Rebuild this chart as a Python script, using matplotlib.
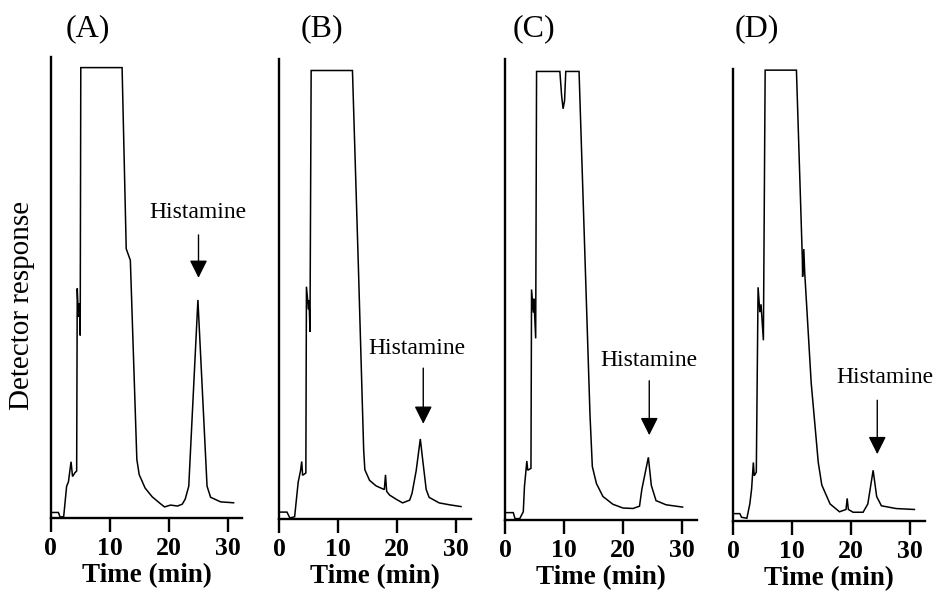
import matplotlib
matplotlib.use("Agg")
import matplotlib.pyplot as plt

plt.rcParams['font.family'] = ['Liberation Serif', 'DejaVu Serif']

# ---------------- data ----------------
panel_labels = ["(A)", "(B)", "(C)", "(D)"]
x_ticks = [0, 10, 20, 30]
x_tick_labels = ["0", "10", "20", "30"]

times_A = [0, 1.3, 1.6, 2.2, 2.7, 3.0, 3.45, 3.7, 4.1, 4.4, 4.5, 4.7, 4.85, 5.0, 5.1,
           12.1, 12.8, 13.5, 14.6, 15.0, 16.0, 17.2, 18.6, 19.3, 20.3, 21.5, 22.3,
           22.8, 23.4, 24.95, 26.5, 27.1, 28.8, 31.0]
resp_A = [1.2, 1.2, 0.2, 0.3, 6.9, 7.8, 12.2, 9.0, 9.8, 10.2, 49.8, 43.7, 46.5, 39.6, 97.7,
          97.7, 58.4, 55.9, 12.7, 9.4, 6.5, 4.6, 3.1, 2.4, 2.8, 2.6, 3.0,
          4.1, 6.9, 47.3, 6.9, 4.5, 3.5, 3.3]

times_B = [0, 1.3, 1.8, 2.6, 3.2, 3.6, 3.8, 3.95, 4.5, 4.6, 4.95, 5.05, 5.2, 5.4,
           12.4, 13.4, 14.3, 14.5, 15.3, 16.4, 17.8, 18.0, 18.2, 18.7, 19.8, 20.9,
           22.1, 22.5, 23.2, 23.9, 24.3, 24.9, 25.4, 27.1, 28.8, 30.8]
resp_B = [1.5, 1.5, 0.2, 0.5, 8.0, 10.5, 12.5, 9.5, 10.0, 50.5, 45.6, 47.5, 40.7, 97.5,
          97.5, 55.0, 15.0, 10.7, 8.4, 7.2, 6.4, 9.6, 6.0, 5.2, 4.3, 3.5,
          4.1, 5.6, 10.5, 17.4, 12.9, 6.4, 4.7, 3.5, 3.1, 2.7]

times_C = [0, 1.4, 1.7, 2.5, 3.1, 3.3, 3.5, 3.7, 3.85, 4.4, 4.5, 4.8, 4.9, 5.2, 5.35,
           9.3, 9.6, 9.85, 10.1, 10.3, 12.55, 14.4, 14.8, 15.5, 16.6, 18.3, 20.0,
           21.7, 22.8, 23.2, 24.3, 24.8, 25.6, 27.3, 30.1]
resp_C = [1.6, 1.6, 0.3, 0.3, 1.8, 7.3, 10.0, 12.8, 10.8, 11.2, 50.0, 45.0, 48.0, 39.4, 97.3,
          97.3, 92.0, 89.2, 91.0, 97.3, 97.3, 23.0, 11.6, 7.9, 5.1, 3.4, 2.6,
          2.5, 3.0, 6.7, 13.6, 7.5, 4.2, 3.3, 2.8]

times_D = [0, 1.1, 1.4, 2.3, 2.8, 3.1, 3.4, 3.55, 3.9, 4.2, 4.5, 4.7, 5.1, 5.4,
           10.7, 11.7, 11.75, 11.95, 12.1, 13.2, 14.4, 15.0, 16.4, 18.0, 19.1, 19.3,
           19.5, 20.3, 22.0, 22.8, 23.7, 24.3, 25.1, 27.6, 30.7]
resp_D = [1.6, 1.6, 0.8, 0.6, 3.7, 6.9, 12.7, 9.8, 10.6, 50.7, 45.3, 47.0, 39.2, 97.8,
          97.8, 57.0, 53.0, 59.0, 54.0, 30.0, 12.7, 7.8, 3.7, 2.0, 2.5, 4.9,
          2.5, 1.9, 1.9, 3.7, 11.0, 5.3, 3.3, 2.7, 2.5]

# top of the drawn y axis line for each panel (response units)
axis_top = [100, 100, 100, 98]

# histamine annotation: (text x, text y, arrow x, arrow start y, arrow tip y)
hist_text_x = [24.9, 23.4, 24.45, 25.7]
hist_text_y = [66.2, 37.0, 34.7, 31.2]
hist_arrow_x = [25.05, 24.4, 24.45, 24.4]
hist_arrow_y0 = [61.4, 32.8, 30.2, 26.2]
hist_arrow_y1 = [52.1, 20.7, 18.4, 14.5]

series_t = [times_A, times_B, times_C, times_D]
series_r = [resp_A, resp_B, resp_C, resp_D]

# ---------------- layout ----------------
W, H = 935, 591
fig = plt.figure(figsize=(W / 100, H / 100), dpi=100)

# axes rectangles in pixels: (x of t=0, y of baseline, y of top)
ax_px = [(50.7, 518, 57), (279.3, 519, 59), (505, 520, 59), (733.3, 521, 60)]
title_px = [(88, 29), (322, 29), (534, 29), (757, 29)]
xmax = 32.5
px_per_min = 5.9

for i in range(4):
    x0, yb, yt = ax_px[i]
    wpx = xmax * px_per_min
    ax = fig.add_axes([x0 / W, (H - yb) / H, wpx / W, (yb - yt) / H])
    ax.plot(series_t[i], series_r[i], color='black', lw=1.1, solid_joinstyle='miter')
    ax.set_xlim(0, xmax)
    ax.set_ylim(0, 100)
    for s in ['top', 'right']:
        ax.spines[s].set_visible(False)
    for s in ['left', 'bottom']:
        ax.spines[s].set_linewidth(1.7)
    ax.spines['left'].set_bounds(0, axis_top[i])
    ax.set_yticks([])
    ax.set_xticks(x_ticks)
    ax.set_xticklabels(x_tick_labels, fontweight='bold', fontsize=18.5)
    ax.tick_params(axis='x', direction='out', length=10, width=1.7, pad=4)
    ax.set_xlabel("Time (min)", fontweight='bold', fontsize=19.5, labelpad=2)
    ax.patch.set_alpha(0)

    ax.text(hist_text_x[i], hist_text_y[i], "Histamine", ha='center', va='center',
            fontsize=17, clip_on=False)
    ax.annotate('', xy=(hist_arrow_x[i], hist_arrow_y1[i]),
                xytext=(hist_arrow_x[i], hist_arrow_y0[i]),
                arrowprops=dict(arrowstyle='-|>,head_length=0.6,head_width=0.3',
                                mutation_scale=18, lw=1.0, color='black',
                                shrinkA=0, shrinkB=0))
    tx, ty = title_px[i]
    fig.text(tx / W, 1 - ty / H, panel_labels[i], ha='center', va='center', fontsize=23)

fig.text(22 / W, 1 - 305 / H, "Detector response", rotation=90, ha='center',
         va='center', fontsize=21)

fig.savefig("out.png", dpi=100)
